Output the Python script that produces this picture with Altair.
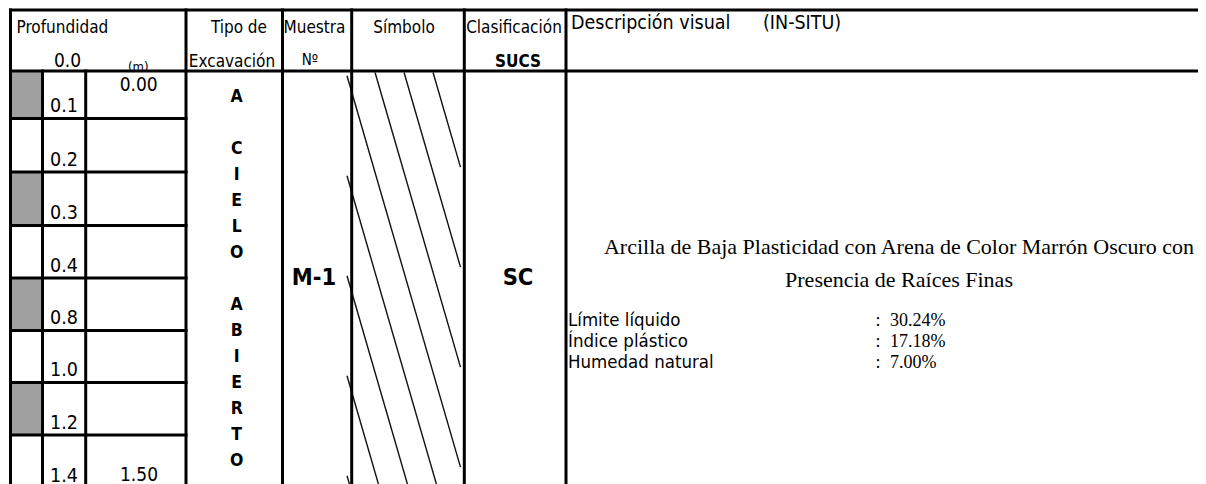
import altair as alt
import pandas as pd

# ---------------- data ----------------
depth_labels = ["0.1", "0.2", "0.3", "0.4", "0.8", "1.0", "1.2", "1.4"]
shaded_rows = [1, 0, 1, 0, 1, 0, 1, 0]
depth_start = "0.00"
depth_end = "1.50"
excavation_letters = ["A", "", "C", "I", "E", "L", "O", "", "A", "B", "I", "E", "R", "T", "O"]
sample_id = "M-1"
sucs_class = "SC"
description_lines = [
    "Arcilla de Baja Plasticidad con Arena de Color Marrón Oscuro con",
    "Presencia de Raíces Finas",
]
property_names = ["Límite líquido", "Índice plástico", "Humedad natural"]
property_values = ["30.24%", "17.18%", "7.00%"]

# ---------------- layout (page pixel grid) ----------------
X_LEFT, X_GRAY, X_NUM, X_M = 10.5, 42.5, 85.7, 186.0
X_TIPO, X_MUES, X_SIMB, X_CLAS, X_RIGHT = 282.5, 351.7, 464.3, 566.0, 1215.0
Y_TOP, Y_HEAD, Y_END = 10.0, 71.0, 492.0
ROW_EDGES = [71.0, 118.5, 172.0, 225.5, 278.0, 330.5, 382.5, 435.0, 488.0]

SANS = "DejaVu Sans Condensed, DejaVu Sans"
SERIF = "Liberation Serif"

xs = alt.Scale(domain=[8, 1198], nice=False, zero=False)
ys = alt.Scale(domain=[8, 484], nice=False, zero=False, reverse=True)


def X(f):
    return alt.X(f, type="quantitative", scale=xs, axis=None)


def Y(f):
    return alt.Y(f, type="quantitative", scale=ys, axis=None)


# gray cells
cells = pd.DataFrame(
    [
        dict(x=X_LEFT, x2=X_GRAY, y=ROW_EDGES[i], y2=ROW_EDGES[i + 1])
        for i, s in enumerate(shaded_rows)
        if s
    ]
)
cell_layer = alt.Chart(cells).mark_rect(color="#a0a0a0").encode(
    x=X("x"), x2="x2", y=Y("y"), y2="y2"
)

# grid lines
lines = [
    dict(x=X_LEFT, x2=X_RIGHT, y=Y_TOP, y2=Y_TOP),
    dict(x=X_LEFT, x2=X_RIGHT, y=Y_HEAD, y2=Y_HEAD),
]
for ye in ROW_EDGES[1:]:
    lines.append(dict(x=X_LEFT, x2=X_M, y=ye, y2=ye))
for xv in [X_LEFT, X_M, X_TIPO, X_MUES, X_SIMB, X_CLAS]:
    lines.append(dict(x=xv, x2=xv, y=Y_TOP, y2=Y_END))
for xv in [X_GRAY, X_NUM]:
    lines.append(dict(x=xv, x2=xv, y=Y_HEAD, y2=Y_END))
grid_layer = alt.Chart(pd.DataFrame(lines)).mark_rule(
    color="black", strokeWidth=3, strokeCap="square"
).encode(x=X("x"), x2="x2", y=Y("y"), y2="y2")

# hatch pattern (SC symbol): parallel diagonal lines clipped to the column
slope, spacing = 0.29, 29.0
x_ref, y_ref = 433.3, 73.3
hx0, hx1, hy0, hy1 = 347.0, 460.5, 72.5, 492.0
hatch = []
for k in range(-2, 14):
    c = x_ref - spacing * k
    ya = max(hy0, y_ref + (hx0 - c) / slope)
    yb = min(hy1, y_ref + (hx1 - c) / slope)
    if yb > ya:
        hatch.append(
            dict(
                x=c + slope * (ya - y_ref), y=ya,
                x2=c + slope * (yb - y_ref), y2=yb,
            )
        )
hatch_layer = alt.Chart(pd.DataFrame(hatch)).mark_rule(
    color="#111111", strokeWidth=1.4
).encode(x=X("x"), x2="x2", y=Y("y"), y2="y2")


def text_layer(rows, **mark):
    base = dict(baseline="alphabetic", color="black")
    base.update(mark)
    return alt.Chart(pd.DataFrame(rows)).mark_text(**base).encode(
        x=X("x"), y=Y("y"), text="t:N"
    )


# header texts
hdr_left = text_layer(
    [dict(x=16.5, y=33.3, t="Profundidad"), dict(x=283.5, y=33.3, t="Muestra")],
    align="left", font=SANS, fontSize=17,
)
hdr_right = text_layer([dict(x=267, y=33.3, t="Tipo de")], align="right", font=SANS, fontSize=17)
hdr_center = text_layer(
    [
        dict(x=232, y=66.7, t="Excavación"),
        dict(x=404, y=33.3, t="Símbolo"),
        dict(x=514, y=33.3, t="Clasificación"),
    ],
    align="center", font=SANS, fontSize=17,
)
hdr_zero = text_layer([dict(x=67.5, y=66.7, t="0.0")], align="center", font=SANS, fontSize=19)
hdr_m = text_layer([dict(x=138.3, y=70.5, t="(m)")], align="center", font=SANS, fontSize=13)
hdr_no = text_layer([dict(x=310, y=65, t="Nº")], align="center", font=SANS, fontSize=15)
hdr_sucs = text_layer([dict(x=518, y=66.7, t="SUCS")], align="center", font=SANS,
                      fontSize=17, fontWeight="bold")
hdr_desc = text_layer(
    [dict(x=571, y=28.5, t="Descripción visual"), dict(x=763, y=28.5, t="(IN-SITU)")],
    align="left", font=SANS, fontSize=19.5,
)

# depth labels
depth_rows = [
    dict(x=64, y=ROW_EDGES[i + 1] - 6.3, t=lab) for i, lab in enumerate(depth_labels)
]
depth_layer = text_layer(depth_rows, align="center", font=SANS, fontSize=19.5)
depth_ends = text_layer(
    [dict(x=138.7, y=90.7, t=depth_start), dict(x=139, y=481.2, t=depth_end)],
    align="center", font=SANS, fontSize=19,
)

# vertical excavation type letters
letter_rows = [
    dict(x=236.7, y=101.7 + 26.03 * i, t=ch) for i, ch in enumerate(excavation_letters) if ch
]
letters_layer = text_layer(letter_rows, align="center", font=SANS, fontSize=17.5,
                           fontWeight="bold")

# sample id and class
big_bold = text_layer(
    [dict(x=314, y=285, t=sample_id), dict(x=518, y=285, t=sucs_class)],
    align="center", font=SANS, fontSize=23.5, fontWeight="bold",
)

# description
desc_layer = text_layer(
    [dict(x=899, y=253.5 + 33 * i, t=s) for i, s in enumerate(description_lines)],
    align="center", font=SERIF, fontSize=22,
)
prop_names_layer = text_layer(
    [dict(x=568, y=325.5 + 21 * i, t=s) for i, s in enumerate(property_names)],
    align="left", font=SANS, fontSize=18.5,
)
prop_colon_layer = text_layer(
    [dict(x=878, y=325.5 + 21 * i, t=":") for i in range(len(property_values))],
    align="center", font=SERIF, fontSize=18,
)
prop_vals_layer = text_layer(
    [dict(x=890, y=325.5 + 21 * i, t=s) for i, s in enumerate(property_values)],
    align="left", font=SERIF, fontSize=18,
)

chart = alt.layer(
    cell_layer, hatch_layer, grid_layer,
    hdr_left, hdr_right, hdr_center, hdr_zero, hdr_m, hdr_no, hdr_sucs, hdr_desc,
    depth_layer, depth_ends, letters_layer, big_bold,
    desc_layer, prop_names_layer, prop_colon_layer, prop_vals_layer,
).properties(
    width=1190, height=476, padding=0,
    autosize=alt.AutoSizeParams(type="none"),
    background="white",
).configure_view(stroke=None)

chart.save("out.html", embed_options={"renderer": "svg", "actions": False})
